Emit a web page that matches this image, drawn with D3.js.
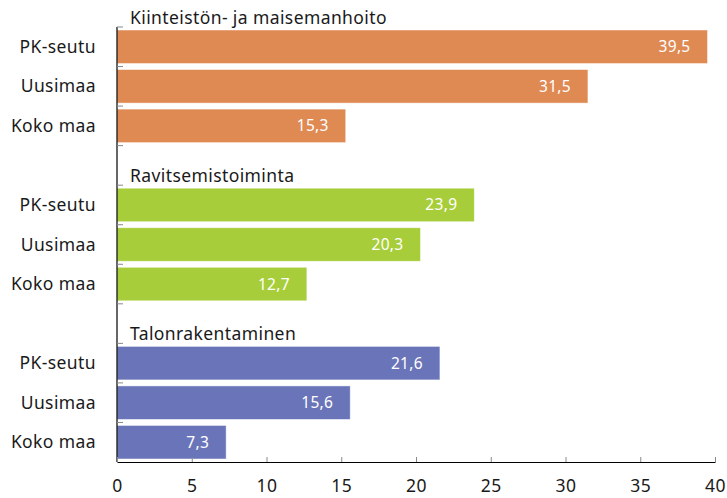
<!DOCTYPE html>
<html>
<head>
<meta charset="utf-8">
<script src="https://d3js.org/d3.v7.min.js"></script>
<style>
body { margin:0; background:#fff; }
svg text { font-family: "Noto Sans", "Open Sans", sans-serif; }
</style>
</head>
<body>
<div id="chart"></div>
<script>

// groups, rows and values
var groups = ["Kiinteistön- ja maisemanhoito", "Ravitsemistoiminta", "Talonrakentaminen"];
var regions = ["PK-seutu", "Uusimaa", "Koko maa"];
var kiinteisto = [39.5, 31.5, 15.3];
var ravitsemis = [23.9, 20.3, 12.7];
var talonrakennus = [21.6, 15.6, 7.3];
var colors = ["#df8953", "#a7ce3a", "#6a75b9"];
var xTicks = [0, 5, 10, 15, 20, 25, 30, 35, 40];

var series = [kiinteisto, ravitsemis, talonrakennus];

// build the row list: 3 bars per group, an empty row between groups for the title
var rows = [];
groups.forEach(function(g, gi) {
	if (gi > 0) rows.push({key: "title" + gi, title: g, group: gi});
	regions.forEach(function(r, ri) {
		rows.push({key: g + "|" + r, region: r, value: series[gi][ri], group: gi});
	});
});

var margin = {top: 27, right: 12, bottom: 36, left: 117},
	width = 727 - margin.left - margin.right,
	height = 498 - margin.top - margin.bottom;

var svg = d3.select("#chart").append("svg")
	.attr("width", 727)
	.attr("height", 498);

var g = svg.append("g")
	.attr("transform", "translate(" + margin.left + "," + margin.top + ")");

var x = d3.scaleLinear().domain([0, 40]).range([0, width]);
var y = d3.scaleBand().domain(rows.map(function(d) { return d.key; })).range([0, height]);

var bars = rows.filter(function(d) { return d.value !== undefined; });
var pad = 3;

g.selectAll(".bar")
	.data(bars)
	.enter().append("rect")
	.attr("class", "bar")
	.attr("x", 0)
	.attr("y", function(d) { return y(d.key) + pad; })
	.attr("width", function(d) { return x(d.value); })
	.attr("height", y.bandwidth() - 2 * pad)
	.attr("fill", function(d) { return colors[d.group]; })
	.attr("stroke", "#fff")
	.attr("stroke-opacity", 0.6)
	.attr("stroke-width", 0.8);

// values inside bars
g.selectAll(".val")
	.data(bars)
	.enter().append("text")
	.attr("class", "val")
	.attr("x", function(d) { return x(d.value) - 17; })
	.attr("y", function(d) { return y(d.key) + y.bandwidth() / 2 + 5.5; })
	.attr("text-anchor", "end")
	.attr("fill", "#fff")
	.attr("font-size", 15.5)
	.attr("letter-spacing", 0.3)
	.text(function(d) { return d3.format(".1f")(d.value).replace(".", ","); });

// row labels
g.selectAll(".lab")
	.data(bars)
	.enter().append("text")
	.attr("class", "lab")
	.attr("x", -21)
	.attr("y", function(d) { return y(d.key) + y.bandwidth() / 2 + 6; })
	.attr("text-anchor", "end")
	.attr("fill", "#1a1a1a")
	.attr("font-size", 17.5)
	.attr("letter-spacing", 0.4)
	.text(function(d) { return d.region; });

// group titles: first one sits above the plot, others in their empty row
var titleY = [-3].concat(rows.filter(function(d) { return d.title; }).map(function(d) {
	return y(d.key) + y.bandwidth() - 3.5;
}));
g.selectAll(".title")
	.data(groups)
	.enter().append("text")
	.attr("class", "title")
	.attr("x", 13)
	.attr("y", function(d, i) { return titleY[i]; })
	.attr("fill", "#1a1a1a")
	.attr("font-size", 17.5)
	.attr("letter-spacing", 0.4)
	.text(function(d) { return d; });

// y axis: line with small ticks at row edges
var edges = rows.map(function(d) { return y(d.key); });
g.append("line")
	.attr("x1", 0).attr("x2", 0)
	.attr("y1", 0).attr("y2", height)
	.attr("stroke", "#000")
	.attr("stroke-width", 1.2);
g.selectAll(".ytick")
	.data(edges)
	.enter().append("line")
	.attr("class", "ytick")
	.attr("x1", 0).attr("x2", 6)
	.attr("y1", function(d) { return d; })
	.attr("y2", function(d) { return d; })
	.attr("stroke", "#888")
	.attr("stroke-width", 1);

// x axis
var xAxis = d3.axisBottom(x)
	.tickValues(xTicks)
	.tickSizeInner(-5)
	.tickSizeOuter(0)
	.tickPadding(18)
	.tickFormat(d3.format("d"));

var ax = g.append("g")
	.attr("transform", "translate(0," + height + ")")
	.call(xAxis);
ax.select(".domain").attr("stroke", "#000").attr("stroke-width", 1.2);
ax.selectAll(".tick line").attr("stroke", "#888");
ax.selectAll(".tick text")
	.attr("fill", "#1a1a1a")
	.attr("font-size", 17.5)
	.attr("letter-spacing", 0.4);

</script>
</body>
</html>
